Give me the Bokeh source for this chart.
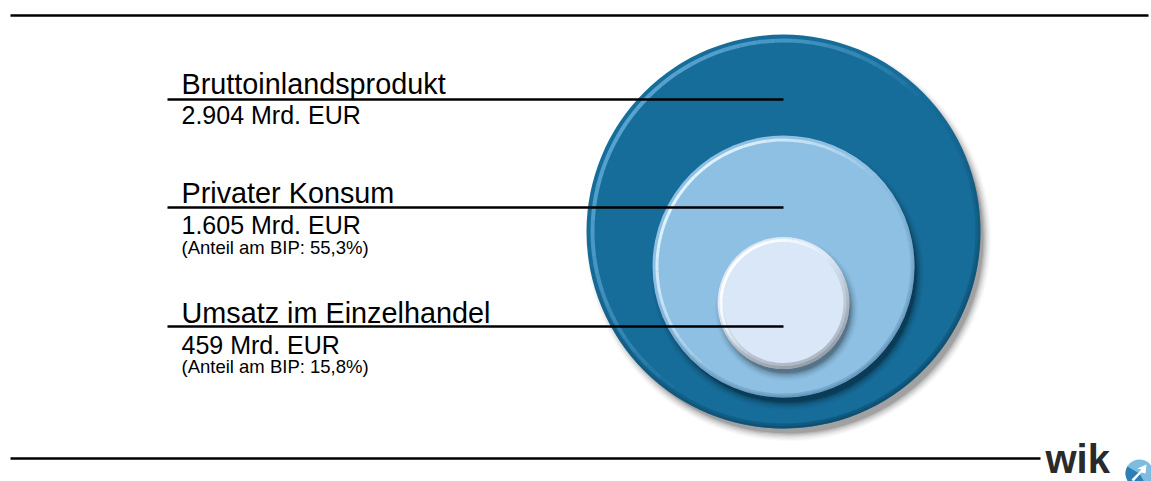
import math
from bokeh.plotting import figure
from bokeh.models import Range1d
from bokeh.core.properties import value
from bokeh.embed import file_html
from bokeh.resources import INLINE

# ---------------- data ----------------
categories = ["Bruttoinlandsprodukt", "Privater Konsum", "Umsatz im Einzelhandel"]
values_mrd = [2904, 1605, 459]
unit = "Mrd. EUR"
share_name = "Anteil am BIP"
logo_text = "wik"


def de_int(v):
    return f"{v:,}".replace(",", ".")


value_labels = [f"{de_int(v)} {unit}" for v in values_mrd]
share_labels = [
    "(" + share_name + ": " + f"{v / values_mrd[0] * 100:.1f}".replace(".", ",") + "%)"
    for v in values_mrd[1:]
]

# ---------------- layout / styles ----------------
W, H = 1151, 481
cx = 783
cys = [231, 266, 302.5]
radii = [197, 131, 66]
fills = ["#176d9a", "#8ec0e3", "#d9e7f8"]
rim_dark = ["#0a4463", "#4d7ea3", "#7a8088"]
rim_alpha = [0.75, 0.6, 0.75]
rim_width = [5, 4, 6]
hi_color = ["#6db5e2", "#e6f6ff", "#ffffff"]
hi_alpha = [0.75, 0.95, 1.0]
hi_in = [8, 6, 5]
hi_out = [4, 3, 2]
shadow_off = [(5, 7), (4, 7), (3, 6)]
shadow_alphas = [[0.12, 0.09, 0.07, 0.05, 0.04, 0.03, 0.02],
                 [0.16, 0.12, 0.08, 0.06, 0.04, 0.03, 0.02],
                 [0.14, 0.10, 0.08, 0.05, 0.04, 0.03, 0.02]]
line_x0 = 167
line_ys = [99, 207, 326]
text_x = 181
BASE_FIX = 8.5  # svg text baseline correction
title_ys = [92 - BASE_FIX, 201 - BASE_FIX, 321 - BASE_FIX]
value_ys = [123 - BASE_FIX, 233 - BASE_FIX, 353 - BASE_FIX]
share_ys = [255 - 8, 374 - 8]
R = math.radians

p = figure(width=W, height=H, x_range=Range1d(0, W), y_range=Range1d(H, 0),
           output_backend="svg", toolbar_location=None, min_border=0)
p.axis.visible = False
p.grid.visible = False
p.outline_line_color = None
p.background_fill_color = "white"
p.border_fill_color = "white"


def arc_band(x, y, r_in, r_out, a0, a1, color, amax, n=36):
    xs, ys, s, e, al = [], [], [], [], []
    for j in range(n):
        t = (j + 0.5) / n
        xs.append(x)
        ys.append(y)
        s.append(R(a0 + (a1 - a0) * j / n))
        e.append(R(a0 + (a1 - a0) * (j + 1) / n))
        al.append(amax * math.sin(math.pi * t) ** 0.8)
    p.annular_wedge(x=xs, y=ys, inner_radius=r_in, outer_radius=r_out,
                    start_angle=s, end_angle=e, fill_color=color, fill_alpha=al,
                    line_color=None)


# horizontal rules
p.segment(x0=[10], y0=[15], x1=[1148], y1=[15], line_color="black", line_width=2.5)
p.segment(x0=[10], y0=[458], x1=[1040], y1=[458], line_color="black", line_width=2.5)

# circles with shadow and bevel
for i, (cy, r, f) in enumerate(zip(cys, radii, fills)):
    ox, oy = shadow_off[i]
    for k, a in enumerate(shadow_alphas[i]):
        p.circle(x=[cx + ox], y=[cy + oy], radius=r + k * 1.3 - 2,
                 fill_color="black", fill_alpha=a, line_color=None)
    p.circle(x=[cx], y=[cy], radius=r, fill_color=f, line_color=None)
    arc_band(cx, cy, r - rim_width[i], r, -175, 45, rim_dark[i], rim_alpha[i] * 0.6)
    arc_band(cx, cy, r - rim_width[i] / 2, r, -160, 30, rim_dark[i], rim_alpha[i] * 0.6)
    arc_band(cx, cy, r - hi_in[i], r - hi_out[i], 45, 235, hi_color[i], hi_alpha[i])

# leader lines
p.segment(x0=[line_x0] * 3, y0=line_ys, x1=[cx] * 3, y1=line_ys,
          line_color="black", line_width=2.5)

# labels
p.text(x=[text_x] * 3, y=title_ys, text=categories, text_baseline="alphabetic",
       text_font=value("Liberation Sans"), text_font_size="28.8px", text_color="black")
p.text(x=[text_x] * 3, y=value_ys, text=value_labels, text_baseline="alphabetic",
       text_font=value("Liberation Sans"), text_font_size="25px", text_color="black")
p.text(x=[text_x] * 2, y=share_ys, text=share_labels, text_baseline="alphabetic",
       text_font=value("Liberation Sans"), text_font_size="18.5px", text_color="black")

# logo
p.text(x=[1045], y=[480], text=[logo_text], text_baseline="bottom",
       text_font=value("Liberation Sans"), text_font_style="bold",
       text_font_size="40px", text_color="#2a2a2a")
p.circle(x=[1139], y=[473], radius=14, fill_color="#7fbde0", line_color=None)
p.wedge(x=[1139], y=[473], radius=14, start_angle=R(150), end_angle=R(300),
        fill_color="#2d7fb5", line_color=None)
p.patch(x=[1131, 1141, 1137, 1146, 1145, 1141, 1133],
        y=[479, 469, 468, 464, 473, 472, 481], fill_color="white", line_color=None)

open("out.html", "w").write(file_html(p, INLINE))
